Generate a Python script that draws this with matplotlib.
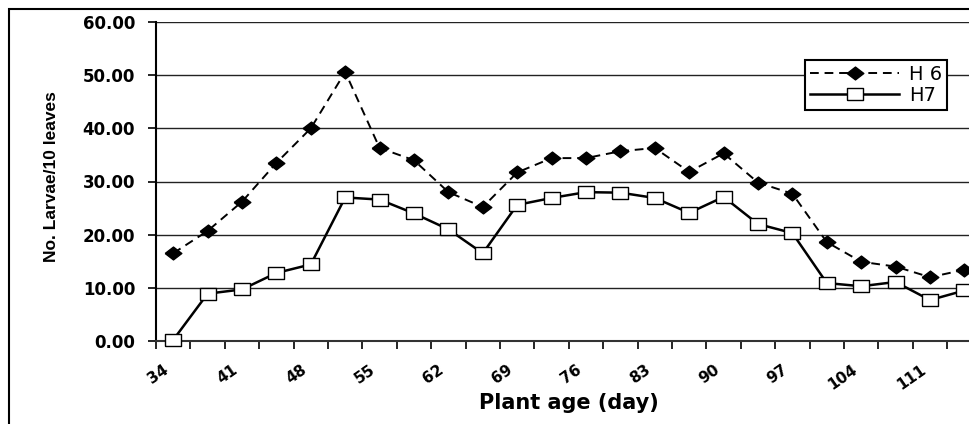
import numpy as np
import matplotlib
matplotlib.use("Agg")
import matplotlib.pyplot as plt
from matplotlib.patches import Rectangle
from matplotlib.transforms import ScaledTranslation

# Larvae counts per 10 leaves (24 samples)
h6 = [16.5, 20.7, 26.2, 33.5, 40.0, 50.6, 36.3, 34.0, 28.0, 25.2, 31.7, 34.4,
      34.4, 35.7, 36.3, 31.8, 35.3, 29.8, 27.7, 18.6, 14.9, 14.0, 12.0, 13.4]
h7 = [0.2, 8.9, 9.7, 12.8, 14.4, 27.0, 26.6, 24.0, 21.0, 16.5, 25.6, 26.9,
      28.0, 27.9, 26.9, 24.1, 27.1, 22.0, 20.3, 10.9, 10.3, 11.1, 7.7, 9.5]
day_labels = ['34', '41', '48', '55', '62', '69', '76', '83', '90', '97', '104', '111']
y_ticks = [0, 10, 20, 30, 40, 50, 60]

W, H = 969, 424
fig = plt.figure(figsize=(W / 100, H / 100), dpi=100)
# plot area runs a bit past the right edge of the picture, as in the original
ax = fig.add_axes([156 / W, 1 - 341 / H, 825.6 / W, 319 / H])

x = np.arange(len(h6))
diamond = [(-1, 0), (0, 0.77), (1, 0), (0, -0.77), (-1, 0)]
box = [(-1, -0.8), (1, -0.8), (1, 0.8), (-1, 0.8), (-1, -0.8)]

for yv in y_ticks[1:]:
    ax.axhline(yv, color='#222222', lw=1.0, zorder=1)

ax.plot(x, h6, color='black', lw=1.4, linestyle=(0, (4.5, 3)),
        marker=diamond, markersize=12, markerfacecolor='black',
        markeredgecolor='black', label='H 6', zorder=3)
ax.plot(x, h7, color='black', lw=1.8, marker=box, markersize=11.5,
        markerfacecolor='white', markeredgecolor='black', markeredgewidth=1.0,
        label='H7', zorder=4, clip_on=False)

ax.set_xlim(-0.5, len(h6) - 0.5)
ax.set_ylim(0, 60)

ax.set_yticks(y_ticks)
ax.set_yticklabels(['%.2f' % v for v in y_ticks], fontsize=12, fontweight='bold',
                   family='DejaVu Sans')
ax.tick_params(axis='y', direction='out', length=6, width=1.2, pad=9)

major = np.arange(-0.5, len(h6) - 1, 2)
ax.set_xticks(major)
ax.set_xticks(major + 1, minor=True)
ax.set_xticklabels(day_labels, fontsize=11, fontweight='bold', rotation=35,
                   ha='right', va='top', rotation_mode='anchor', family='DejaVu Sans')
ax.tick_params(axis='x', which='both', direction='out', length=6, width=1.2, pad=9)
shift = ScaledTranslation(5 / 72, 0, fig.dpi_scale_trans)
for lab in ax.get_xticklabels():
    lab.set_transform(lab.get_transform() + shift)

for side in ['top', 'right']:
    ax.spines[side].set_visible(False)
ax.spines['left'].set_linewidth(1.5)
ax.spines['bottom'].set_linewidth(1.5)
ax.spines['bottom'].set_color('#333333')

ax.set_xlabel('Plant age (day)', fontsize=15, fontweight='bold', va='center')
ax.xaxis.set_label_coords(0.5, -0.195)
ax.set_ylabel('No. Larvae/10 leaves', fontsize=12.5, fontweight='bold', va='center',
              family='Liberation Sans')
ax.yaxis.set_label_coords(-0.127, 0.515)

leg = ax.legend(loc='upper left', bbox_to_anchor=(805 / W, 1 - 60 / H),
                bbox_transform=fig.transFigure, fontsize=14, frameon=True,
                fancybox=False, framealpha=1, edgecolor='black',
                handlelength=4.6, handletextpad=0.5, borderpad=0.25,
                labelspacing=0.12, borderaxespad=0)
leg.get_frame().set_linewidth(1.5)
leg.set_zorder(5)

# outer chart border (cropped at right and bottom)
fig.add_artist(Rectangle((9 / W, -0.1), 1.2, (H - 9) / H + 0.1,
                         transform=fig.transFigure, fill=False, lw=1.5,
                         ec='black'))

fig.savefig('out.png', dpi=100)
